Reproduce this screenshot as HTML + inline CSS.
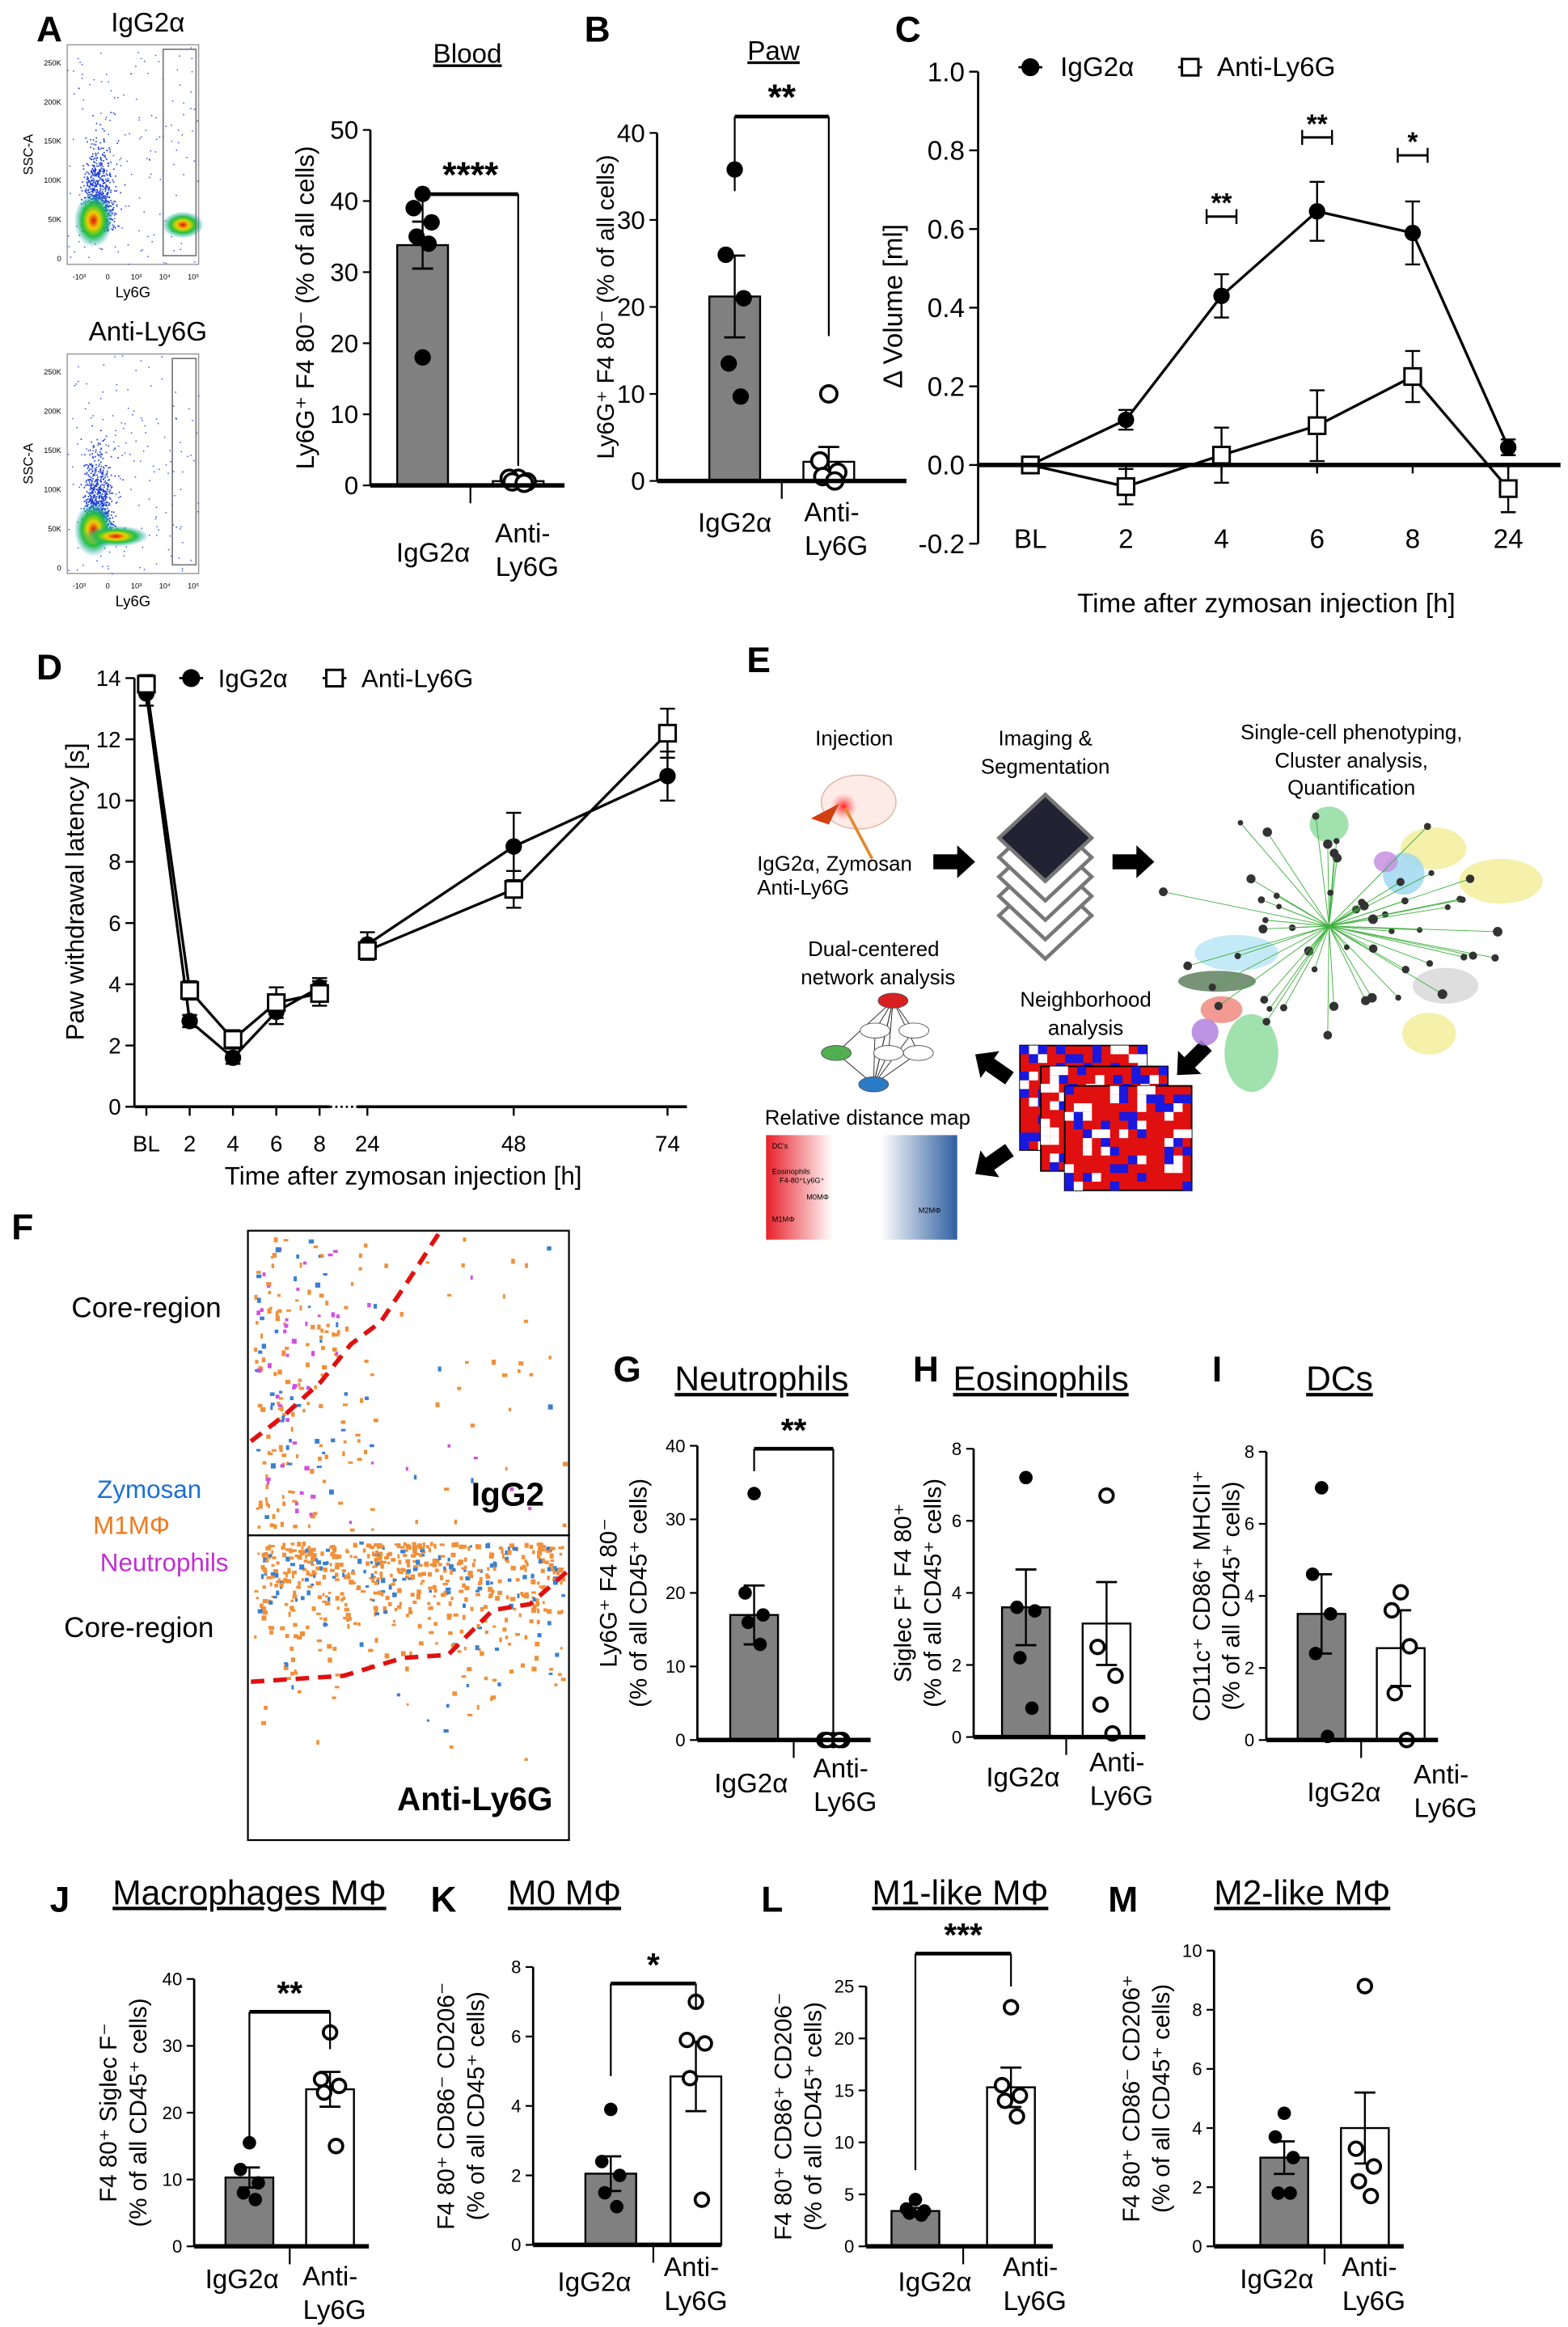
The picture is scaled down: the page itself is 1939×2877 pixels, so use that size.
<!DOCTYPE html>
<html><head><meta charset="utf-8">
<style>
html,body{margin:0;padding:0;background:#fff;}
svg{display:block;font-family:"Liberation Sans",Arial,sans-serif;}
</style></head>
<body>
<svg id="fig" xmlns="http://www.w3.org/2000/svg" width="1939" height="2877" viewBox="0 0 1050 1558">
<rect x="0" y="0" width="1050" height="1558" fill="#fff"/>
<defs>
<linearGradient id="distGrad" x1="0" x2="1" y1="0" y2="0">
<stop offset="0" stop-color="#e8202a"/><stop offset="0.35" stop-color="#fff"/><stop offset="0.6" stop-color="#fff"/><stop offset="1" stop-color="#2f5fa0"/>
</linearGradient>
<radialGradient id="hot" cx="0.5" cy="0.5" r="0.5">
<stop offset="0" stop-color="#e01010"/><stop offset="0.3" stop-color="#f0d000"/><stop offset="0.6" stop-color="#20c040"/><stop offset="1" stop-color="#20a0d0" stop-opacity="0"/>
</radialGradient>
<radialGradient id="glow" cx="0.5" cy="0.5" r="0.5">
<stop offset="0" stop-color="#ff2020"/><stop offset="1" stop-color="#ff8080" stop-opacity="0"/>
</radialGradient>
</defs>
</svg>
<script>
// ---------- DATA ----------
const bloodIgG=[41,39,37,35,34,18], bloodAnti=[1,1,0.5,0.5,0.3], bloodMean=[33.8,0.6], bloodSem=[3.3,0.3];
const pawIgG=[35.8,26,21,13.5,9.7], pawAnti=[10,2.3,1,0.5,0], pawMean=[21.2,2.2], pawSem=[4.7,1.7];
const cCats=['BL','2','4','6','8','24'];
const cIgG=[0,0.115,0.43,0.645,0.59,0.045], cIgGErr=[0.015,0.025,0.055,0.075,0.08,0.02];
const cAnti=[0,-0.055,0.025,0.1,0.225,-0.06], cAntiErr=[0.015,0.045,0.07,0.09,0.065,0.06];
const cTicks=[1.0,0.8,0.6,0.4,0.2,0.0,-0.2];
const dCats=['BL','2','4','6','8','24','48','74'];
const dIgG=[13.5,2.8,1.6,3.1,3.9,5.3,8.5,10.8], dIgGErr=[0.4,0.2,0.2,0.4,0.3,0.4,1.1,0.8];
const dAnti=[13.8,3.8,2.2,3.4,3.7,5.1,7.1,12.2], dAntiErr=[0.3,0.3,0.3,0.5,0.4,0.3,0.6,0.8];
const dTicks=[0,2,4,6,8,10,12,14];
const gIgG=[33.5,20,17,16,13], gAnti=[0,0,0,0,0], gMean=[17,0], gSem=[4,0], gTicks=[0,10,20,30,40];
const hIgG=[7.2,3.6,3.5,2.2,0.8], hAnti=[6.7,2.5,1.7,0.9,0.1], hMean=[3.6,3.15], hSem=[1.05,1.15], hTicks=[0,2,4,6,8];
const iIgG=[7,4.6,3.5,2.4,0.1], iAnti=[4.1,3.6,2.6,1.3,0], iMean=[3.5,2.55], iSem=[1.1,1.05], iTicks=[0,2,4,6,8];
const jIgG=[15.5,11.5,9.5,8,7], jAnti=[32,25,24,23,15], jMean=[10.3,23.5], jSem=[1.5,2.6], jTicks=[0,10,20,30,40];
const kIgG=[3.9,2.4,2,1.5,1.1], kAnti=[7,5.9,5.8,4.8,1.3], kMean=[2.05,4.85], kSem=[0.5,1.0], kTicks=[0,2,4,6,8];
const lIgG=[4.5,3.6,3.4,3.2,3.0], lAnti=[23,15.5,14.5,14,12.5], lMean=[3.4,15.3], lSem=[0.3,1.9], lTicks=[0,5,10,15,20,25];
const mIgG=[4.5,3.7,3,1.8,1.8], mAnti=[8.8,3.3,2.7,2.2,1.7], mMean=[3,4], mSem=[0.55,1.2], mTicks=[0,2,4,6,8,10];

// ---------- HELPERS ----------
const NS='http://www.w3.org/2000/svg';
const svg=document.getElementById('fig');
function add(parent,tag,attrs,name,text){
  const e=document.createElementNS(NS,tag);
  for(const k in attrs){e.setAttribute(k,attrs[k]);}
  
  
  if(text!==undefined){e.textContent=text;}
  parent.appendChild(e);
  return e;
}
function txt(p,x,y,s,fs,name,extra){
  const a=Object.assign({x:x,y:y,'font-size':fs,'text-anchor':'middle',fill:'#000'},extra||{});
  return add(p,'text',a,name,s);
}
function rtxt(p,x,y,s,fs,name,extra){
  const a=Object.assign({x:0,y:0,transform:'translate('+x+','+y+') rotate(-90)','font-size':fs,'text-anchor':'middle',fill:'#000'},extra||{});
  return add(p,'text',a,name,s);
}
function line(p,x1,y1,x2,y2,w,name,extra){
  return add(p,'line',Object.assign({x1:x1,y1:y1,x2:x2,y2:y2,stroke:'#000','stroke-width':w},extra||{}),name);
}
let seed=7;
function rnd(){seed=(seed*16807)%2147483647;return (seed-1)/2147483646;}
function gauss(){return (rnd()+rnd()+rnd()-1.5)/1.5;}
const JIT=[0,-6,6,-4,4,0];

// ---------- PANEL LETTERS ----------
[['A',33,28],['B',400,28],['C',608,28],['D',33,455],['E',508,450],['F',15,830],['G',420,925],['H',620,925],['I',815,925],['J',40,1280],['K',297,1280],['L',517,1280],['M',752,1280]].forEach(l=>{
  txt(svg,l[1],l[2],l[0],24,'panel-label-'+l[0].toLowerCase(),{'font-weight':'bold'});
});

// ---------- BAR CHART ----------
function barChart(o){
  const g=add(svg,'g',{},o.name);
  const yv=v=>o.y0-(v/o.vTop)*(o.y0-o.yTop);
  const ticks=o.ticks;
  line(g,o.ax,o.y0,o.ax,yv(ticks[ticks.length-1]),1.5,'y-axis');
  ticks.forEach(t=>{
    line(g,o.ax-5,yv(t),o.ax,yv(t),1.2,'y-tick');
    txt(g,o.ax-8,yv(t)+o.tfs*0.35,String(t),o.tfs,'y-tick-label',{'text-anchor':'end'});
  });
  const cx=[o.c1,o.c2];
  const dots=[o.d1,o.d2];
  for(let i=0;i<2;i++){
    const h=o.y0-yv(o.means[i]);
    add(g,'rect',{x:cx[i]-o.w/2,y:yv(o.means[i]),width:o.w,height:Math.max(h,0.01),fill:i===0?'#808080':'#fff',stroke:'#000','stroke-width':1.3},i===0?'bar-igg2a':'bar-anti-ly6g');
    const top=yv(o.means[i]+o.sem[i]);
    line(g,cx[i],yv(o.means[i]-o.sem[i]),cx[i],top,1.3,'error-bar');
    line(g,cx[i]-7,top,cx[i]+7,top,1.5,'error-cap');
    line(g,cx[i]-7,yv(o.means[i]-o.sem[i]),cx[i]+7,yv(o.means[i]-o.sem[i]),1.5,'error-cap');
    dots[i].forEach((v,k)=>{
      add(g,'circle',{cx:cx[i]+JIT[k]*(o.jit||1),cy:yv(v),r:o.r||4.5,fill:i===0?'#000':'#fff',stroke:'#000','stroke-width':i===0?0:2},i===0?'dot-igg2a':'dot-anti-ly6g');
    });
  }
  line(g,o.ax,o.y0,o.xEnd,o.y0,3,'x-axis');
  line(g,(o.c1+o.c2)/2,o.y0,(o.c1+o.c2)/2,o.y0+12,1.2,'x-tick');
  if(o.br){
    line(g,o.c1,o.br.yl,o.c1,o.br.y,1.2,'sig-bracket-left');
    line(g,o.c1,o.br.y,o.c2,o.br.y,2.5,'sig-bracket-top');
    line(g,o.c2,o.br.y,o.c2,o.br.yr,1.2,'sig-bracket-right');
    txt(g,(o.c1+o.c2)/2,o.br.y-5,o.br.t,o.sfs||22,'significance-stars',{'font-weight':'bold'});
  }
  txt(g,o.l1x,o.l1y,'IgG2α',o.lfs,'x-label-igg2a');
  txt(g,o.l2x,o.l2y,'Anti-',o.lfs,'x-label-anti');
  txt(g,o.l2x+3,o.l2y+o.lfs*1.25,'Ly6G',o.lfs,'x-label-ly6g');
  if(o.title){
    txt(g,o.title[1],o.title[2],o.title[0],o.title[3],'chart-title',{'text-decoration':'underline'});
  }
  const yc=(o.y0+yv(ticks[ticks.length-1]))/2;
  if(o.yl2){
    rtxt(g,o.ylx,yc,o.yl1,o.yfs,'y-axis-title-line1');
    rtxt(g,o.ylx+20,yc,o.yl2,o.yfs,'y-axis-title-line2');
  } else {
    rtxt(g,o.ylx,yc,o.yl1,o.yfs,'y-axis-title');
  }
}

barChart({name:'chart-blood',ax:248,y0:325,yTop:87,vTop:50,ticks:[0,10,20,30,40,50],c1:283,c2:347,w:34,d1:bloodIgG,d2:bloodAnti,means:bloodMean,sem:bloodSem,xEnd:378,tfs:17,lfs:18,r:5.5,
 br:{y:130,yl:148,yr:312,t:'****'},sfs:24,l1x:290,l1y:376,l2x:350,l2y:363,title:['Blood',313,42,18],ylx:210,yl1:'Ly6G⁺ F4 80⁻ (% of all cells)',yfs:17});
barChart({name:'chart-paw',ax:440,y0:322,yTop:89,vTop:40,ticks:[0,10,20,30,40],c1:492,c2:555,w:34,d1:pawIgG,d2:pawAnti,means:pawMean,sem:pawSem,xEnd:607,tfs:17,lfs:18,r:5.5,
 br:{y:78,yl:128,yr:225,t:'**'},sfs:24,l1x:492,l1y:356,l2x:557,l2y:349,title:['Paw',518,40,18],ylx:411,yl1:'Ly6G⁺ F4 80⁻ (% of all cells)',yfs:16});
barChart({name:'chart-neutrophils',ax:467,y0:1165,yTop:968,vTop:40,ticks:gTicks,c1:505,c2:558,w:32,d1:gIgG,d2:gAnti,means:gMean,sem:gSem,xEnd:583,tfs:12,lfs:18,
 br:{y:970,yl:985,yr:1160,t:'**'},l1x:503,l1y:1200,l2x:563,l2y:1190,title:['Neutrophils',510,931,23],ylx:413,yl1:'Ly6G⁺ F4 80⁻',yl2:'(% of all CD45⁺ cells)',yfs:16});
barChart({name:'chart-eosinophils',ax:652,y0:1163,yTop:970,vTop:8,ticks:hTicks,c1:687,c2:741,w:32,d1:hIgG,d2:hAnti,means:hMean,sem:hSem,xEnd:767,tfs:12,lfs:18,
 l1x:685,l1y:1196,l2x:748,l2y:1186,title:['Eosinophils',697,931,23],ylx:610,yl1:'Siglec F⁺ F4 80⁺',yl2:'(% of all CD45⁺ cells)',yfs:16});
barChart({name:'chart-dcs',ax:848,y0:1165,yTop:972,vTop:8,ticks:iTicks,c1:885,c2:938,w:32,d1:iIgG,d2:iAnti,means:iMean,sem:iSem,xEnd:963,tfs:12,lfs:18,
 l1x:900,l1y:1206,l2x:965,l2y:1194,title:['DCs',897,931,23],ylx:810,yl1:'CD11c⁺ CD86⁺ MHCII⁺',yl2:'(% of all CD45⁺ cells)',yfs:16});
barChart({name:'chart-macrophages',ax:130,y0:1504,yTop:1325,vTop:40,ticks:jTicks,c1:167,c2:221,w:32,d1:jIgG,d2:jAnti,means:jMean,sem:jSem,xEnd:247,tfs:12,lfs:18,
 br:{y:1347,yl:1436,yr:1372,t:'**'},l1x:162,l1y:1532,l2x:221,l2y:1530,title:['Macrophages MΦ',167,1275,23],ylx:78,yl1:'F4 80⁺ Siglec F⁻',yl2:'(% of all CD45⁺ cells)',yfs:16});
barChart({name:'chart-m0',ax:357,y0:1503,yTop:1317,vTop:8,ticks:kTicks,c1:409,c2:466,w:34,d1:kIgG,d2:kAnti,means:kMean,sem:kSem,xEnd:483,tfs:12,lfs:18,
 br:{y:1328,yl:1390,yr:1345,t:'*'},l1x:398,l1y:1534,l2x:463,l2y:1524,title:['M0 MΦ',378,1275,23],ylx:304,yl1:'F4 80⁺ CD86⁻ CD206⁻',yl2:'(% of all CD45⁺ cells)',yfs:16});
barChart({name:'chart-m1',ax:580,y0:1504,yTop:1330,vTop:25,ticks:lTicks,c1:613,c2:677,w:32,d1:lIgG,d2:lAnti,means:lMean,sem:lSem,xEnd:705,tfs:12,lfs:18,
 br:{y:1308,yl:1453,yr:1330,t:'***'},l1x:626,l1y:1534,l2x:690,l2y:1524,title:['M1-like MΦ',643,1275,23],ylx:530,yl1:'F4 80⁺ CD86⁺ CD206⁻',yl2:'(% of all CD45⁺ cells)',yfs:16});
barChart({name:'chart-m2',ax:813,y0:1504,yTop:1306,vTop:10,ticks:mTicks,c1:860,c2:914,w:32,d1:mIgG,d2:mAnti,means:mMean,sem:mSem,xEnd:940,tfs:12,lfs:18,
 l1x:855,l1y:1532,l2x:917,l2y:1524,title:['M2-like MΦ',872,1275,23],ylx:763,yl1:'F4 80⁺ CD86⁻ CD206⁺',yl2:'(% of all CD45⁺ cells)',yfs:16});

// ---------- LINE CHART ----------
function lineChart(o){
  const g=add(svg,'g',{},o.name);
  const yv=v=>o.y0-(v-o.vMin)/(o.vMax-o.vMin)*(o.y0-o.yTop);
  line(g,o.ax,yv(o.vMin),o.ax,yv(o.vMax),1.5,'y-axis');
  o.ticks.forEach(t=>{
    line(g,o.ax-6,yv(t),o.ax,yv(t),1.3,'y-tick');
    txt(g,o.ax-9,yv(t)+o.tfs*0.35,o.fmt(t),o.tfs,'y-tick-label',{'text-anchor':'end'});
  });
  o.cats.forEach((c,i)=>{
    line(g,o.xs[i],o.xAxisY,o.xs[i],o.xAxisY+6,1.3,'x-tick');
    txt(g,o.xs[i],o.catY,c,o.tfs,'x-tick-label');
  });
  const series=[[o.s1,o.e1,'igg2a'],[o.s2,o.e2,'anti-ly6g']];
  series.forEach((s,si)=>{
    let d='';
    s[0].forEach((v,i)=>{d+=((i===0||i===o.breakAt)?'M':'L')+o.xs[i]+','+yv(v);});
    add(g,'path',{d:d,fill:'none',stroke:'#000','stroke-width':1.8},'line-'+s[2]);
    s[0].forEach((v,i)=>{
      const x=o.xs[i];
      line(g,x,yv(v-s[1][i]),x,yv(v+s[1][i]),1.3,'error-bar-'+s[2]);
      line(g,x-5,yv(v+s[1][i]),x+5,yv(v+s[1][i]),1.3,'error-cap-'+s[2]);
      line(g,x-5,yv(v-s[1][i]),x+5,yv(v-s[1][i]),1.3,'error-cap-'+s[2]);
      if(si===0) add(g,'circle',{cx:x,cy:yv(v),r:5.5,fill:'#000'},'marker-igg2a');
      else add(g,'rect',{x:x-5.5,y:yv(v)-5.5,width:11,height:11,fill:'#fff',stroke:'#000','stroke-width':1.6},'marker-anti-ly6g');
    });
  });
  return {g:g,yv:yv};
}
const C=lineChart({name:'chart-paw-volume',ax:655,y0:364,yTop:48,vMin:-0.2,vMax:1.0,ticks:cTicks,fmt:t=>t.toFixed(1),cats:cCats,
 xs:[690,754,818,882,946,1010],xAxisY:311,catY:367,tfs:18,s1:cIgG,e1:cIgGErr,s2:cAnti,e2:cAntiErr,breakAt:-1});
line(C.g,655,C.yv(0),1045,C.yv(0),3,'zero-line');
[[818,145,'**'],[882,92,'**'],[946,104,'*']].forEach(s=>{
  line(C.g,s[0]-10,s[1],s[0]+10,s[1],1.6,'sig-bar');
  line(C.g,s[0]-10,s[1]-5,s[0]-10,s[1]+5,1.3,'sig-bar-end');
  line(C.g,s[0]+10,s[1]-5,s[0]+10,s[1]+5,1.3,'sig-bar-end');
  txt(C.g,s[0],s[1]-3,s[2],18,'significance-stars',{'font-weight':'bold'});
});
txt(C.g,848,410,'Time after zymosan injection [h]',18,'x-axis-title');
rtxt(C.g,604,205,'Δ Volume [ml]',18,'y-axis-title');
add(C.g,'circle',{cx:690,cy:45,r:6,fill:'#000'},'legend-marker-igg2a');
line(C.g,682,45,698,45,1.5,'legend-line');
txt(C.g,710,51,'IgG2α',18,'legend-label-igg2a',{'text-anchor':'start'});
line(C.g,789,45,805,45,1.5,'legend-line');
add(C.g,'rect',{x:791.5,y:39.5,width:11,height:11,fill:'#fff',stroke:'#000','stroke-width':1.6},'legend-marker-anti-ly6g');
txt(C.g,815,51,'Anti-Ly6G',18,'legend-label-anti-ly6g',{'text-anchor':'start'});

const D=lineChart({name:'chart-withdrawal-latency',ax:90,y0:741,yTop:454,vMin:0,vMax:14,ticks:dTicks,fmt:t=>String(t),cats:dCats,
 xs:[98,127,156,185,214,246,344,447],xAxisY:741,catY:771,tfs:15,s1:dIgG,e1:dIgGErr,s2:dAnti,e2:dAntiErr,breakAt:5});
line(D.g,90,741,221,741,2,'x-axis');
line(D.g,221,741,239,741,1.5,'x-axis-break',{'stroke-dasharray':'1.5,2'});
line(D.g,239,741,460,741,2,'x-axis');
txt(D.g,270,793,'Time after zymosan injection [h]',17,'x-axis-title');
rtxt(D.g,56,597,'Paw withdrawal latency [s]',17,'y-axis-title');
line(D.g,120,454,136,454,1.5,'legend-line');
add(D.g,'circle',{cx:128,cy:454,r:6,fill:'#000'},'legend-marker-igg2a');
txt(D.g,146,460,'IgG2α',17,'legend-label-igg2a',{'text-anchor':'start'});
line(D.g,216,454,232,454,1.5,'legend-line');
add(D.g,'rect',{x:218.5,y:448.5,width:11,height:11,fill:'#fff',stroke:'#000','stroke-width':1.6},'legend-marker-anti-ly6g');
txt(D.g,242,460,'Anti-Ly6G',17,'legend-label-anti-ly6g',{'text-anchor':'start'});

// ---------- PANEL A FLOW PLOTS ----------
function flow(x0,y0,w,h,title,name,blue2){
  const g=add(svg,'g',{},name);
  txt(g,x0+w/2+10,y0-9,title,18,'flow-title');
  add(g,'rect',{x:x0,y:y0,width:w,height:h,fill:'#fff',stroke:'#999','stroke-width':0.8},'flow-plot-frame');
  rtxt(g,x0-23,y0+h/2,'SSC-A',9,'flow-y-label');
  txt(g,x0+w/2,y0+h+22,'Ly6G',10,'flow-x-label');
  ['0','50K','100K','150K','200K','250K'].forEach((t,i)=>txt(g,x0-4,y0+h-2-i*h/5.6,t,5,'flow-y-tick',{'text-anchor':'end'}));
  ['-10³','0','10³','10⁴','10⁵'].forEach((t,i)=>txt(g,x0+8+i*w/4.6,y0+h+10,t,5,'flow-x-tick'));
  for(let i=0;i<900;i++){
    const x=x0+w*(0.22+0.14*gauss()+ (rnd()<0.25?0.1*rnd():0));
    const y=y0+h*(0.85-Math.abs(0.45*gauss())-(rnd()<0.3?0.2*rnd():0));
    add(g,'rect',{x:x,y:y,width:0.9,height:0.9,fill:'#1a3cd8'},'flow-event');
  }
  for(let i=0;i<160;i++){
    add(g,'rect',{x:x0+w*rnd(),y:y0+h*rnd(),width:0.8,height:0.8,fill:'#3050e0'},'flow-event');
  }
  add(g,'ellipse',{cx:x0+w*0.2,cy:y0+h*0.8,rx:13,ry:18,fill:'url(#hot)'},'flow-density-neg');
  if(blue2){
    add(g,'ellipse',{cx:x0+w*0.88,cy:y0+h*0.82,rx:14,ry:9,fill:'url(#hot)'},'flow-density-pos');
    add(g,'rect',{x:x0+w*0.73,y:y0+3,width:w*0.25,height:h*0.94,fill:'none',stroke:'#777','stroke-width':0.9},'ly6g-gate');
  } else {
    add(g,'ellipse',{cx:x0+w*0.37,cy:y0+h*0.83,rx:22,ry:7,fill:'url(#hot)'},'flow-density-tail');
    add(g,'rect',{x:x0+w*0.8,y:y0+3,width:w*0.18,height:h*0.94,fill:'none',stroke:'#777','stroke-width':0.9},'ly6g-gate');
  }
}
flow(45,30,88,147,'IgG2α','flow-plot-igg2a',true);
flow(45,237,88,147,'Anti-Ly6G','flow-plot-anti-ly6g',false);

// ---------- PANEL E SCHEMATIC ----------
const E=add(svg,'g',{},'panel-e-schematic');
txt(E,572,499,'Injection',14,'step-injection');
txt(E,700,499,'Imaging &',14,'step-imaging');
txt(E,700,518,'Segmentation',14,'step-segmentation');
txt(E,905,495,'Single-cell phenotyping,',14,'step-phenotyping');
txt(E,905,514,'Cluster analysis,',14,'step-cluster');
txt(E,905,532,'Quantification',14,'step-quantification');
add(E,'ellipse',{cx:575,cy:537,rx:25,ry:18,fill:'#fcebe6',stroke:'#e0b8a8','stroke-width':0.8},'mouse-body');
add(E,'circle',{cx:565,cy:540,r:9,fill:'url(#glow)'},'injection-site');
add(E,'line',{x1:566,y1:541,x2:584,y2:575,stroke:'#e08a30','stroke-width':2},'syringe');
add(E,'polygon',{points:'543,548 562,538 555,552',fill:'#d04010'},'zymosan-icon');
txt(E,507,583,'IgG2α,   Zymosan',14,'injection-groups',{'text-anchor':'start'});
txt(E,507,599,'Anti-Ly6G',14,'injection-anti',{'text-anchor':'start'});
function arrow(p,x,y,ang,name){
  add(p,'polygon',{points:'0,-5 16,-5 16,-11 28,0 16,11 16,5 0,5',fill:'#000',transform:'translate('+x+','+y+') rotate('+ang+')'},name);
}
arrow(E,625,577,0,'arrow-to-imaging');
arrow(E,745,577,0,'arrow-to-phenotyping');
arrow(E,808,700,135,'arrow-to-neighborhood');
arrow(E,676,722,-145,'arrow-to-network');
arrow(E,676,770,145,'arrow-to-distance');
for(let i=4;i>=0;i--){
  add(E,'polygon',{points:'700,'+(532+i*13)+' 731,'+(561+i*13)+' 700,'+(590+i*13)+' 669,'+(561+i*13),fill:i===0?'#223':'#fff',stroke:'#777','stroke-width':2.5},'image-stack-layer');
}
const cl=[[960,568,22,14,'#f3ef9c'],[1005,590,28,15,'#f3ef9c'],[940,585,14,14,'#9fd8f0'],[928,577,8,7,'#c890e0'],[890,552,13,12,'#8fdca0'],[828,638,28,12,'#b8e6f4'],[815,657,26,7,'#5f8060'],[818,676,14,9,'#f08a80'],[807,691,9,9,'#b080e0'],[838,705,18,26,'#8fdca0'],[968,660,22,12,'#d8d8d8'],[957,692,18,14,'#f3ef9c']];
cl.forEach(c=>add(E,'ellipse',{cx:c[0],cy:c[1],rx:c[2],ry:c[3],fill:c[4],opacity:0.85},'cluster-blob'));
for(let i=0;i<55;i++){
  const a=rnd()*6.28, r=20+rnd()*80;
  const x=890+Math.cos(a)*r*1.2, y=620+Math.sin(a)*r*0.8;
  add(E,'line',{x1:890,y1:620,x2:x,y2:y,stroke:'#40b040','stroke-width':0.5},'cluster-edge');
  add(E,'circle',{cx:x,cy:y,r:1.8+rnd()*1.5,fill:'#333'},'cluster-node');
}
add(E,'rect',{x:548,y:663,width:78,height:74,fill:'#fff'},'network-diagram');
[[598,670],[586,690],[612,690],[560,705],[595,705],[615,705],[585,726]].forEach((n,i)=>{
  [[598,670],[585,726]].forEach(h=>add(E,'line',{x1:h[0],y1:h[1],x2:n[0],y2:n[1],stroke:'#222','stroke-width':0.5},'network-edge'));
});
[[598,670,'#d82020'],[586,690,'#fff'],[612,690,'#fff'],[560,705,'#50b050'],[595,705,'#fff'],[615,705,'#fff'],[585,726,'#2a7ac8']].forEach(n=>
  add(E,'ellipse',{cx:n[0],cy:n[1],rx:10,ry:5,fill:n[2],stroke:'#555','stroke-width':0.5},'network-node'));
txt(E,585,640,'Dual-centered',14,'step-dual-centered');
txt(E,588,659,'network analysis',14,'step-network');
txt(E,727,674,'Neighborhood',14,'step-neighborhood');
txt(E,727,693,'analysis',14,'step-neighborhood-2');
[[683,700],[697,714],[713,727]].forEach((p,k)=>{
  const n=14, s=85/n;
  add(E,'rect',{x:p[0],y:p[1],width:85,height:70,fill:'#e01010',stroke:'#000','stroke-width':1},'neighborhood-heatmap');
  for(let i=0;i<n;i++)for(let j=0;j<12;j++){
    const r=rnd();
    if(r<0.55)continue;
    add(E,'rect',{x:p[0]+i*s,y:p[1]+j*(70/12),width:s,height:70/12,fill:r<0.8?'#1818e0':'#fff'},'heatmap-cell');
  }
});
txt(E,581,753,'Relative distance map',14,'step-distance-map');
add(E,'rect',{x:513,y:760,width:128,height:70,fill:'url(#distGrad)'},'distance-map');
[['DC\'s',517,769],['Eosinophils',517,786],['F4-80⁺Ly6G⁺',522,792],['M0MΦ',540,803],['M1MΦ',517,818],['M2MΦ',615,812]].forEach(t=>
  txt(E,t[1],t[2],t[0],5,'distance-map-label',{'text-anchor':'start'}));

// ---------- PANEL F IMAGES ----------
function tissue(y0,name,dash,dense,lab,lx){
  const g=add(svg,'g',{},name);
  add(g,'rect',{x:166,y:y0,width:215,height:204,fill:'#fff',stroke:'#000','stroke-width':1.2},'tissue-image-frame');
  for(let i=0;i<(dense?650:260);i++){
    let x,y;
    if(dense){x=170+rnd()*207;y=y0+4+Math.abs(gauss())*120*(rnd()<0.5?0.6:1.3);if(y>y0+198)y=y0+4+rnd()*190;}
    else{x=170+Math.abs(gauss())*110;y=y0+4+rnd()*196;if(rnd()<0.3){x=170+rnd()*207;}}
    const r=rnd();
    const col=r<0.6?'#f0903a':(r<0.8?(dense?'#f0903a':'#d050e0'):'#3a80d0');
    add(g,'rect',{x:x,y:y,width:1.5+rnd()*2,height:1.5+rnd()*2,fill:col},'tissue-cell');
  }
  add(g,'path',{d:dash,fill:'none',stroke:'#e01010','stroke-width':3,'stroke-dasharray':'9,6'},'core-region-boundary');
  txt(g,lx,y0+184,lab,22,'condition-label',{'font-weight':'bold'});
}
tissue(824,'tissue-image-igg2',"M168,965 L190,948 L215,925 L235,900 L255,885 L275,855 L295,824",false,'IgG2',340);
tissue(1028,'tissue-image-anti-ly6g',"M168,1126 L230,1122 L270,1110 L300,1108 L330,1078 L355,1074 L380,1052",true,'Anti-Ly6G',318);
txt(svg,98,882,'Core-region',19,'core-region-label-top');
txt(svg,100,1003,'Zymosan',17,'legend-zymosan',{fill:'#1a70d0'});
txt(svg,88,1027,'M1MΦ',17,'legend-m1',{fill:'#f07a20'});
txt(svg,110,1052,'Neutrophils',17,'legend-neutrophils',{fill:'#c030d0'});
txt(svg,93,1096,'Core-region',19,'core-region-label-bottom');
</script>
</body></html>
